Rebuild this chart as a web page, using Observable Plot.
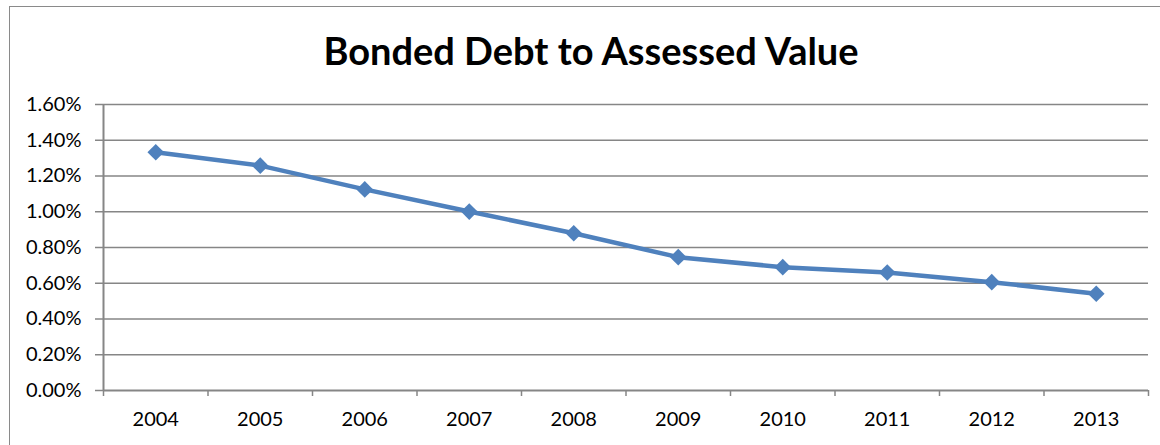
<!DOCTYPE html>
<html>
<head>
<meta charset="utf-8">
<script src="https://cdn.jsdelivr.net/npm/d3@7"></script>
<script src="https://cdn.jsdelivr.net/npm/@observablehq/plot@0.6"></script>
<style>
  html, body { margin: 0; padding: 0; background: #fff; }
  #wrap { position: relative; width: 1160px; height: 445px; overflow: hidden; font-family: Lato, "Liberation Sans", Arial, sans-serif; }
  #frame { position: absolute; left: 9px; top: 6px; width: 1200px; height: 500px; border: 1.5px solid #8a8a8a; box-sizing: border-box; }
  #title { position: absolute; left: 0; width: 1182px; top: 27px; text-align: center; font-size: 38px; font-weight: bold; color: #000; line-height: 46px; }
  #chart { position: absolute; left: 0; top: 0; }
</style>
</head>
<body>
<div id="wrap">
  <div id="frame"></div>
  <div id="title">Bonded Debt to Assessed Value</div>
  <div id="chart"></div>
</div>
<script>
const years = [2004, 2005, 2006, 2007, 2008, 2009, 2010, 2011, 2012, 2013];
const ratios = [1.333, 1.258, 1.125, 1.001, 0.880, 0.746, 0.690, 0.660, 0.606, 0.541];
const yTicks = [0, 0.2, 0.4, 0.6, 0.8, 1.0, 1.2, 1.4, 1.6];

const data = years.map((y, i) => ({year: y, value: ratios[i]}));
const bounds = [years[0] - 0.5, ...years.map(y => y + 0.5)];
const grey = "#868686";
const blue = "#4F81BD";
const font = "Lato, 'Liberation Sans', Arial, sans-serif";

const chart = Plot.plot({
  width: 1160,
  height: 445,
  marginLeft: 103,
  marginRight: 12,
  marginTop: 104,
  marginBottom: 55,
  style: {fontFamily: font, color: "#000", background: "transparent"},
  x: {domain: [bounds[0], bounds[bounds.length - 1]]},
  y: {domain: [0, 1.6]},
  marks: [
    Plot.ruleY(yTicks.slice(1), {stroke: grey, strokeWidth: 1.5, strokeOpacity: 1}),
    Plot.axisY({ticks: yTicks, tickFormat: d => d.toFixed(2) + "%", tickSize: 8, tickPadding: 14, fontSize: 20, stroke: grey, strokeWidth: 1.5, strokeOpacity: 1, label: null, fill: "#000"}),
    Plot.ruleX([bounds[0]], {stroke: grey, strokeWidth: 2}),
    Plot.ruleY([0], {stroke: grey, strokeWidth: 2}),
    Plot.axisX({ticks: bounds, tickFormat: () => "", tickSize: 6, stroke: grey, strokeWidth: 1.5, strokeOpacity: 1, label: null}),
    Plot.axisX({ticks: years, tickFormat: d => String(d), tickSize: 0, tickPadding: 21, fontSize: 20, label: null, fill: "#000"}),
    Plot.line(data, {x: "year", y: "value", stroke: blue, strokeWidth: 4.5, strokeLinejoin: "round"}),
    Plot.dot(data, {x: "year", y: "value", symbol: "diamond2", r: 7.5, fill: blue, stroke: "none"})
  ]
});
document.getElementById("chart").appendChild(chart);
</script>
</body>
</html>
